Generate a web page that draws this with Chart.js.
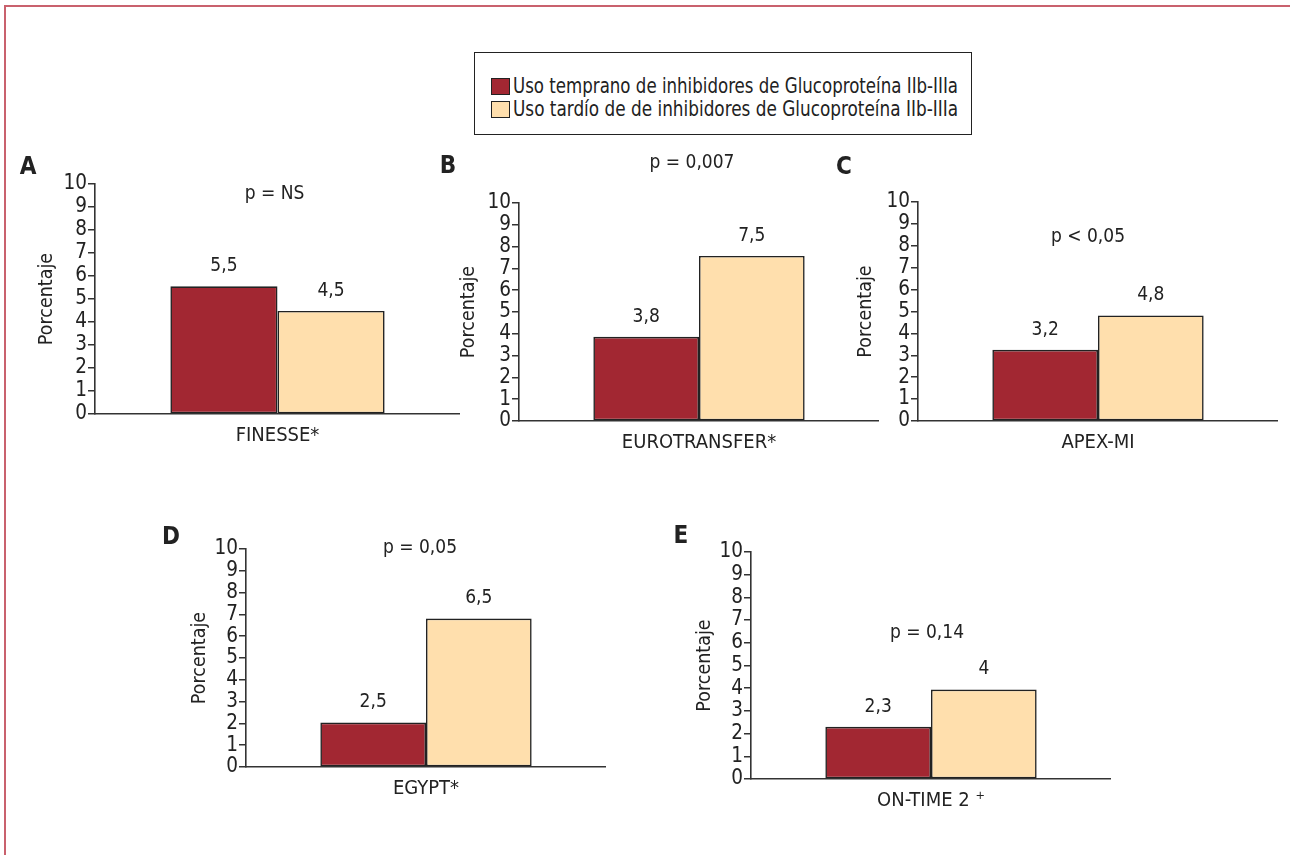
<!DOCTYPE html>
<html>
<head>
<meta charset="utf-8">
<script src="https://cdn.jsdelivr.net/npm/chart.js@4.4.1/dist/chart.umd.min.js"></script>
<style>
  body { margin: 0; background: #fff; width: 1290px; height: 855px; overflow: hidden; position: relative; }
  #frame { position: absolute; left: 4px; top: 5px; width: 1300px; height: 900px;
           border-left: 2px solid #c9616d; border-top: 2px solid #c9616d; }
  canvas { position: absolute; }
  #legend { position: absolute; left: 474px; top: 52px; width: 498px; height: 83px; box-sizing: border-box;
            border: 1.5px solid #222; background: #fff; padding: 22px 0 0 15.5px;
            font-family: "Liberation Sans Narrow", "Arial Narrow", "DejaVu Sans Condensed", sans-serif;
            font-size: 21px; color: #222; }
  .row { height: 23px; line-height: 23px; display: flex; align-items: center; white-space: nowrap; }
  .sw { width: 17px; height: 15px; border: 1.5px solid #222; margin-right: 3px; flex: none; }
  .txt { display: inline-block; transform-origin: 0 50%; }
</style>
</head>
<body>
<div id="frame"></div>
<div id="legend"></div>

<script>
// data
const studies = ['FINESSE*', 'EUROTRANSFER*', 'APEX-MI', 'EGYPT*', 'ON-TIME 2 \u207A'];
const seriesNames = [
  'Uso temprano de inhibidores de Glucoproteína IIb-IIIa',
  'Uso tardío de de inhibidores de Glucoproteína IIb-IIIa'
];
// bar heights as drawn in the figure
const earlyValues = [5.55, 3.86, 3.25, 2.04, 2.30];
const lateValues = [4.48, 7.57, 4.82, 6.81, 3.94];
// printed value labels
const earlyLabels = ['5,5', '3,8', '3,2', '2,5', '2,3'];
const lateLabels = ['4,5', '7,5', '4,8', '6,5', '4'];
const pValues = ['p = NS', 'p = 0,007', 'p < 0,05', 'p = 0,05', 'p = 0,14'];
const panelLetters = ['A', 'B', 'C', 'D', 'E'];
const yTicks = [0, 1, 2, 3, 4, 5, 6, 7, 8, 9, 10];

const colors = ['#a22732', '#ffdfad'];
const FONT = '"Liberation Sans Narrow", "Arial Narrow", "DejaVu Sans Condensed", sans-serif';
const INK = '#222';

// page layout of each small chart (pixels on page; pAt is in axis units)
const panels = [
  { axisX: 95,  top: 184, bottom: 414, right: 460,  titleDx: 48, letterX: 28,  letterY: 168, pAt: 9.58,  pDx: -3 },
  { axisX: 519, top: 203, bottom: 421, right: 879,  titleDx: 50, letterX: 448, letterY: 167, pAt: 11.83, pDx: -7 },
  { axisX: 918, top: 202, bottom: 421, right: 1278, titleDx: 52, letterX: 844, letterY: 168, pAt: 8.38,  pDx: -10 },
  { axisX: 246, top: 549, bottom: 767, right: 606,  titleDx: 46, letterX: 171, letterY: 538, pAt: 10.05, pDx: -6 },
  { axisX: 751, top: 552, bottom: 779, right: 1111, titleDx: 46, letterX: 681, letterY: 537, pAt: 6.43,  pDx: -4 }
];

// legend, each text squeezed to the width it has in the figure
const legend = document.getElementById('legend');
const LEGEND_TEXT_W = 445;
seriesNames.forEach((name, i) => {
  const row = document.createElement('div');
  row.className = 'row';
  const sw = document.createElement('span');
  sw.className = 'sw';
  sw.style.background = colors[i];
  const txt = document.createElement('span');
  txt.className = 'txt';
  txt.textContent = name;
  row.appendChild(sw);
  row.appendChild(txt);
  legend.appendChild(row);
  const w = txt.getBoundingClientRect().width;
  txt.style.transform = 'scaleX(' + (LEGEND_TEXT_W / w) + ')';
});

// draws value labels, p value and panel letter
const annotations = {
  id: 'annotations',
  afterDatasetsDraw(chart, args, opts) {
    const { ctx } = chart;
    ctx.save();
    ctx.fillStyle = INK;
    ctx.textAlign = 'center';
    ctx.textBaseline = 'middle';
    ctx.font = '19px ' + FONT;
    chart.data.datasets.forEach((ds, di) => {
      chart.getDatasetMeta(di).data.forEach((bar, i) => {
        ctx.fillText(opts.texts[di][i], bar.x, bar.y - 20);
      });
    });
    const cx = (chart.getDatasetMeta(0).data[0].x + chart.getDatasetMeta(1).data[0].x) / 2;
    ctx.fillText(opts.p, cx + opts.pDx, chart.scales.y.getPixelForValue(opts.pAt));
    ctx.font = 'bold 24px ' + FONT;
    ctx.fillText(opts.letter, opts.lx, opts.ly);
    ctx.restore();
  }
};

const PAD_LEFT = 30, PAD_TOP = 60, X_H = 40, TITLE_LH = 19 * 1.2;

panels.forEach((pl, i) => {
  const yW = pl.titleDx + TITLE_LH / 2;
  const left = Math.round(pl.axisX - PAD_LEFT - yW);
  const top = pl.top - PAD_TOP;
  const width = Math.round(pl.right - left);
  const height = PAD_TOP + (pl.bottom - pl.top) + X_H;

  const canvas = document.createElement('canvas');
  canvas.width = width;
  canvas.height = height;
  canvas.style.left = left + 'px';
  canvas.style.top = top + 'px';
  document.body.appendChild(canvas);

  const padLeft = pl.axisX - left - yW;

  new Chart(canvas.getContext('2d'), {
    type: 'bar',
    data: {
      labels: [studies[i]],
      datasets: [
        { label: seriesNames[0], data: [earlyValues[i]], backgroundColor: colors[0] },
        { label: seriesNames[1], data: [lateValues[i]], backgroundColor: colors[1] }
      ]
    },
    options: {
      responsive: false,
      animation: false,
      devicePixelRatio: 1,
      layout: { padding: { left: padLeft, top: PAD_TOP, right: 0, bottom: 0 } },
      datasets: {
        bar: {
          categoryPercentage: 0.587,
          barPercentage: 1,
          borderColor: INK,
          borderWidth: 1.6,
          borderSkipped: false
        }
      },
      plugins: {
        legend: { display: false },
        tooltip: { enabled: false },
        annotations: {
          texts: [[earlyLabels[i]], [lateLabels[i]]],
          p: pValues[i],
          pAt: pl.pAt,
          pDx: pl.pDx,
          letter: panelLetters[i],
          lx: pl.letterX - left,
          ly: pl.letterY - top
        }
      },
      scales: {
        x: {
          grid: { display: false, drawTicks: false },
          border: { display: true, color: '#333', width: 1.6 },
          ticks: { color: INK, font: { family: FONT, size: 20 }, padding: 10 },
          afterFit: (axis) => { axis.height = X_H; }
        },
        y: {
          min: 0,
          max: 10,
          afterBuildTicks: (axis) => { axis.ticks = yTicks.map(v => ({ value: v })); },
          grid: { drawOnChartArea: false, drawTicks: true, tickLength: 7, color: '#333', lineWidth: 1.5 },
          border: { display: true, color: '#333', width: 1.6 },
          ticks: { color: INK, font: { family: FONT, size: 20.5 }, padding: 1, autoSkip: false },
          title: { display: true, text: 'Porcentaje', color: INK, font: { family: FONT, size: 19.5 }, padding: 0 },
          afterFit: (axis) => { axis.width = yW; }
        }
      }
    },
    plugins: [annotations]
  });
});
</script>
</body>
</html>
